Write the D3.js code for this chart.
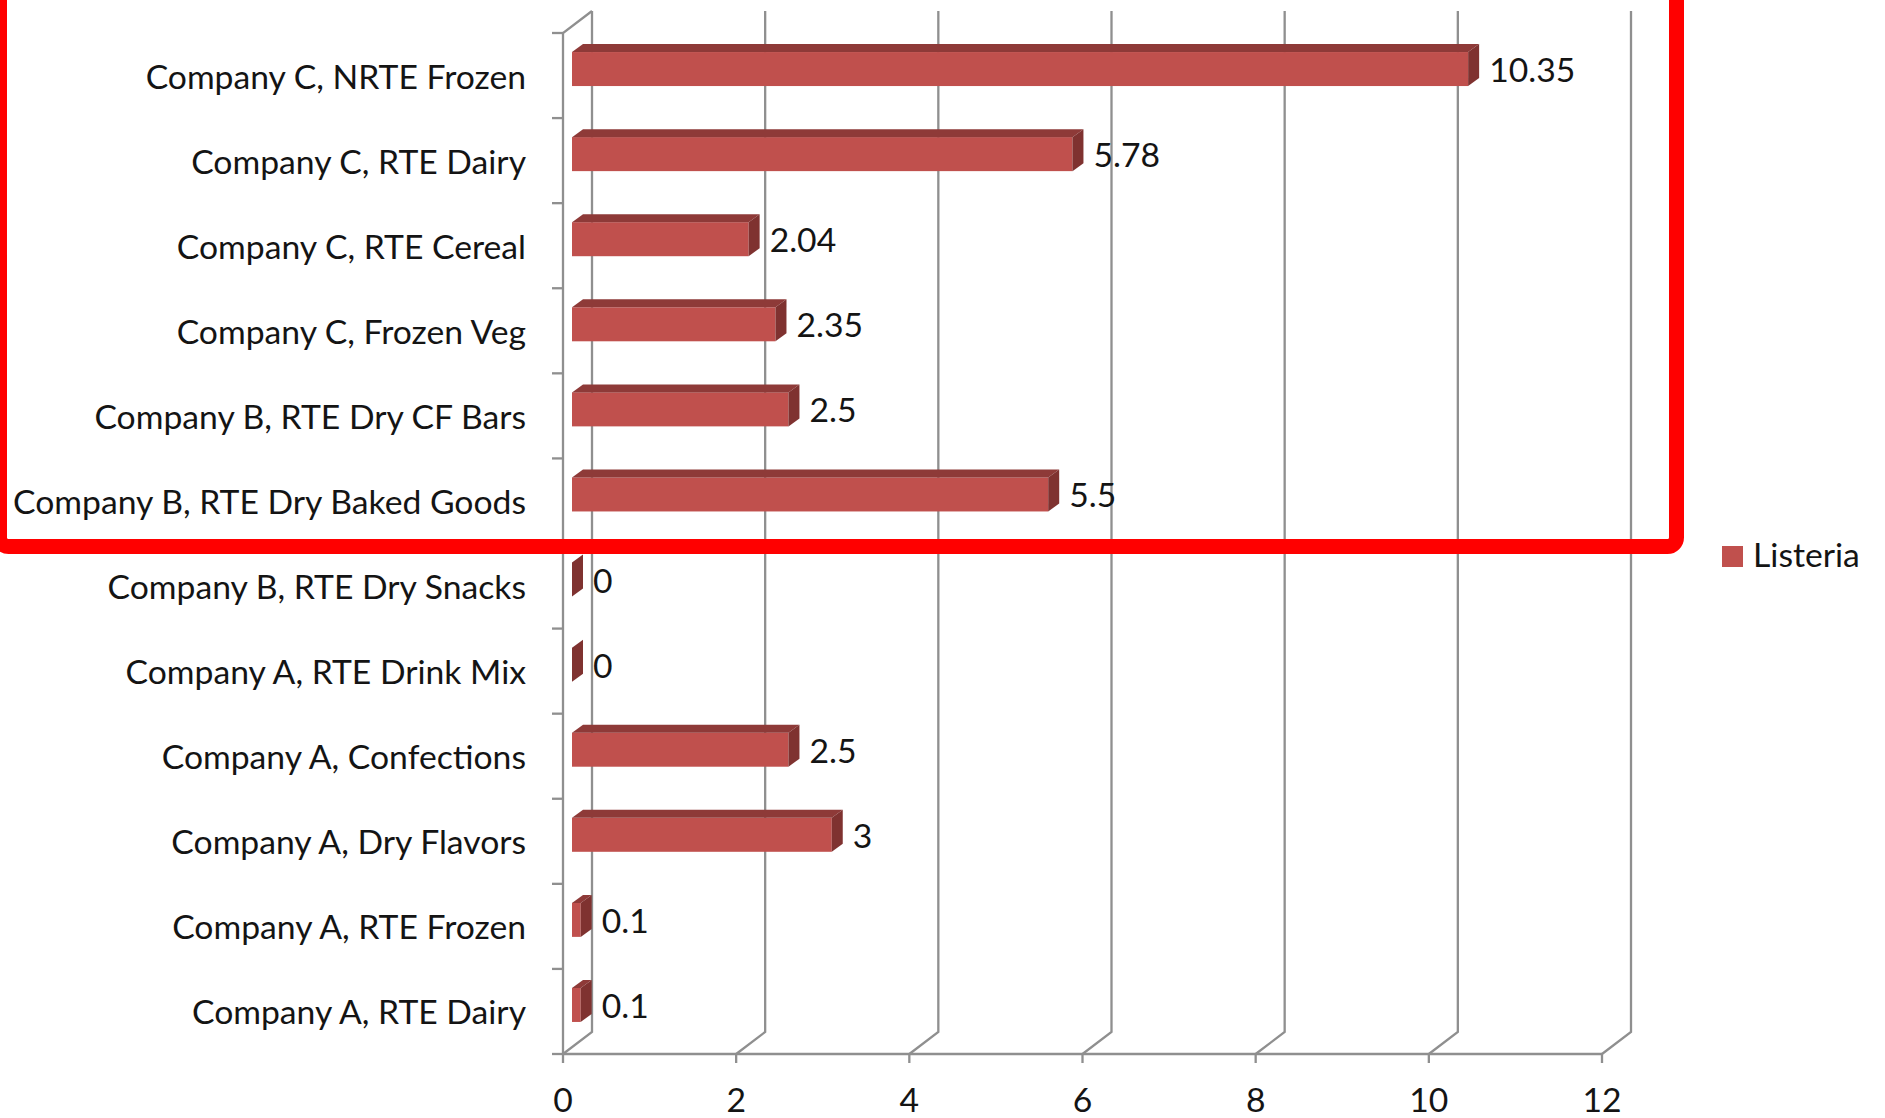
<!DOCTYPE html>
<html>
<head>
<meta charset="utf-8">
<script src="https://cdn.jsdelivr.net/npm/d3@7"></script>
<style>
body { margin: 0; background: #fff; }
text { font-family: Lato, "Open Sans", sans-serif; fill: #141414; }
</style>
</head>
<body>
<div id="chart"></div>
<script>
// data, top to bottom as in the picture
var categories = [
    "Company C, NRTE Frozen",
    "Company C, RTE Dairy",
    "Company C, RTE Cereal",
    "Company C, Frozen Veg",
    "Company B, RTE Dry CF Bars",
    "Company B, RTE Dry Baked Goods",
    "Company B, RTE Dry Snacks",
    "Company A, RTE Drink Mix",
    "Company A, Confections",
    "Company A, Dry Flavors",
    "Company A, RTE Frozen",
    "Company A, RTE Dairy"
];
var listeria = [10.35, 5.78, 2.04, 2.35, 2.5, 5.5, 0, 0, 2.5, 3, 0.1, 0.1];
var xTicks = [0, 2, 4, 6, 8, 10, 12];
var seriesName = "Listeria";

var svgWidth = 1885;
var svgHeight = 1118;

// front plane of the 3d box
var plot = { left: 563, right: 1602, top: 33, bottom: 1054 };
// offset of the back wall
var wall = { dx: 29, dy: 22 };
// bars sit a bit inside the box and have some depth
var barShift = { dx: 9, dy: 6.5 };
var barDepth = { dx: 11, dy: 8 };
var barHeight = 34;

var gridColor = "#8f8f8f";
var barFront = "#c0504d";
var barTop = "#8e3a38";
var barSide = "#7f3230";

var svg = d3.select("#chart")
    .append("svg")
    .attr("width", svgWidth)
    .attr("height", svgHeight);

var xScale = d3.scaleLinear()
    .domain([0, 12])
    .range([plot.left, plot.right]);

var yScale = d3.scaleBand()
    .domain(categories)
    .range([plot.top, plot.bottom]);

var bw = yScale.bandwidth();

// fit the label font so the longest category is about as wide as in the picture
var probe = svg.append("text").style("font-size", "100px").text("Company B, RTE Dry Baked Goods");
var fontSize = 100 * 513 / probe.node().getComputedTextLength();
probe.remove();
fontSize = Math.min(fontSize, 36);

// back wall gridlines + floor diagonals
var grid = svg.append("g");
grid.selectAll(".back")
    .data(xTicks)
    .enter()
    .append("path")
    .attr("class", "back")
    .attr("d", d => `M${xScale(d) + wall.dx},${plot.top - wall.dy}V${plot.bottom - wall.dy}L${xScale(d)},${plot.bottom}`)
    .attr("fill", "none")
    .attr("stroke", gridColor)
    .attr("stroke-width", 2.3);

// left wall edge
grid.append("path")
    .attr("d", `M${plot.left},${plot.bottom}V${plot.top}L${plot.left + wall.dx},${plot.top - wall.dy}`)
    .attr("fill", "none")
    .attr("stroke", gridColor)
    .attr("stroke-width", 2.3);

// x axis front line
grid.append("line")
    .attr("x1", plot.left).attr("x2", plot.right)
    .attr("y1", plot.bottom).attr("y2", plot.bottom)
    .attr("stroke", gridColor)
    .attr("stroke-width", 2.3);

// x ticks and labels
grid.selectAll(".xtick")
    .data(xTicks)
    .enter()
    .append("line")
    .attr("class", "xtick")
    .attr("x1", d => xScale(d)).attr("x2", d => xScale(d))
    .attr("y1", plot.bottom).attr("y2", plot.bottom + 9)
    .attr("stroke", gridColor)
    .attr("stroke-width", 2.3);

svg.selectAll(".xlabel")
    .data(xTicks)
    .enter()
    .append("text")
    .attr("class", "xlabel")
    .attr("x", d => xScale(d))
    .attr("y", 1112)
    .attr("text-anchor", "middle")
    .style("font-size", fontSize + "px")
    .text(d => d);

// category ticks at band edges
var edges = categories.map(c => yScale(c)).concat([plot.bottom]);
grid.selectAll(".ytick")
    .data(edges)
    .enter()
    .append("line")
    .attr("class", "ytick")
    .attr("x1", plot.left - 11).attr("x2", plot.left)
    .attr("y1", d => d).attr("y2", d => d)
    .attr("stroke", gridColor)
    .attr("stroke-width", 2.3);

svg.selectAll(".ylabel")
    .data(categories)
    .enter()
    .append("text")
    .attr("class", "ylabel")
    .attr("x", 526)
    .attr("y", d => yScale(d) + bw / 2 + 13)
    .attr("text-anchor", "end")
    .style("font-size", fontSize + "px")
    .text(d => d);

// 3d bars
var bars = svg.selectAll(".bar")
    .data(categories.map((c, i) => ({ cat: c, value: listeria[i] })))
    .enter()
    .append("g")
    .attr("class", "bar");

function x0() { return xScale(0) + barShift.dx; }
function x1(d) { return xScale(d.value) + barShift.dx; }
function yTop(d) { return yScale(d.cat) + bw / 2 - barShift.dy - barHeight / 2; }

bars.filter(d => d.value > 0)
    .append("rect")
    .attr("x", x0)
    .attr("y", yTop)
    .attr("width", d => x1(d) - x0())
    .attr("height", barHeight)
    .attr("fill", barFront);

bars.filter(d => d.value > 0)
    .append("path")
    .attr("d", d => `M${x0()},${yTop(d)}L${x0() + barDepth.dx},${yTop(d) - barDepth.dy}H${x1(d) + barDepth.dx}L${x1(d)},${yTop(d)}Z`)
    .attr("fill", barTop);

bars.append("path")
    .attr("d", d => `M${x1(d)},${yTop(d)}L${x1(d) + barDepth.dx},${yTop(d) - barDepth.dy}V${yTop(d) - barDepth.dy + barHeight}L${x1(d)},${yTop(d) + barHeight}Z`)
    .attr("fill", barSide);

bars.append("text")
    .attr("x", d => x1(d) + barDepth.dx + 10)
    .attr("y", d => yScale(d.cat) + bw / 2 + 6.5)
    .style("font-size", fontSize + "px")
    .text(d => d.value);

// legend
var legend = svg.append("g");
legend.append("rect")
    .attr("x", 1722).attr("y", 546)
    .attr("width", 21).attr("height", 21)
    .attr("fill", barFront);
legend.append("text")
    .attr("x", 1753).attr("y", 567)
    .style("font-size", fontSize + "px")
    .text(seriesName);

// red highlight box round the upper rows
svg.append("rect")
    .attr("x", -0.5)
    .attr("y", -30)
    .attr("width", 1677)
    .attr("height", 576.5)
    .attr("rx", 9)
    .attr("fill", "none")
    .attr("stroke", "#ff0000")
    .attr("stroke-width", 15);
</script>
</body>
</html>
